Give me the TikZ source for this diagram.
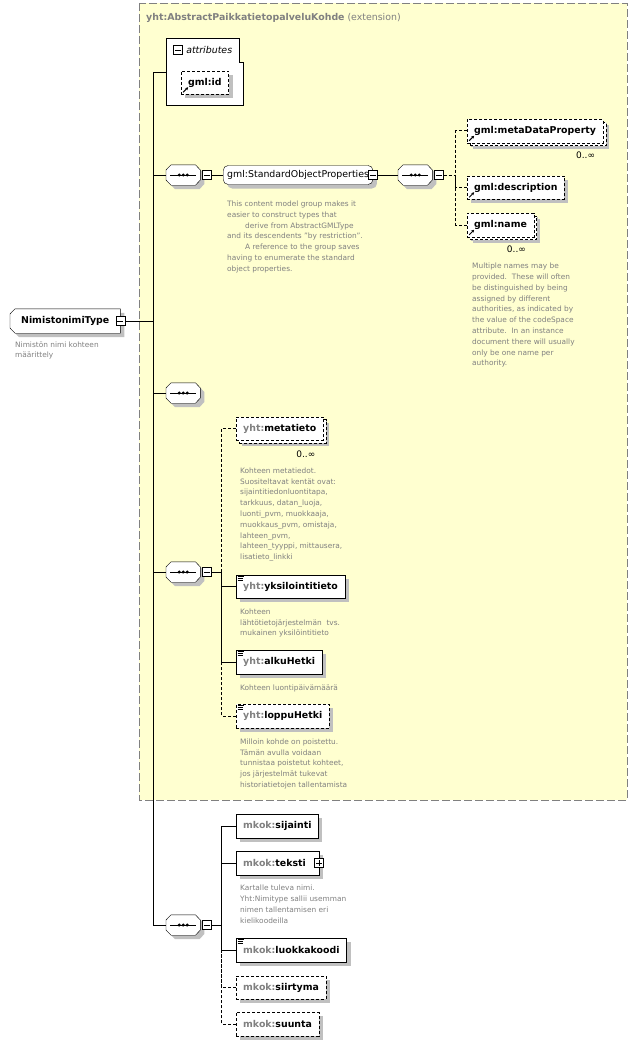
\documentclass[tikz,border=0pt]{standalone}
\usepackage{fontspec}
\setmainfont{DejaVu Sans}
\usetikzlibrary{shadows}
\usetikzlibrary{arrows.meta}
\usetikzlibrary{positioning}

\definecolor{bgyellow}{RGB}{255,255,208}
\definecolor{framegray}{RGB}{128,128,128}
\definecolor{shadowgray}{RGB}{192,192,192}
\definecolor{notegray}{RGB}{128,128,128}
\definecolor{pfxgray}{RGB}{128,128,128}

\newcommand{\qn}[2]{\textcolor{pfxgray}{#1:}#2}

\pgfdeclarelayer{bg}
\pgfdeclarelayer{mid}
\pgfsetlayers{bg,mid,main}

\begin{document}
\begin{tikzpicture} [
  x=1pt, y=-1pt,
  line width=1pt,
  link/.style={draw, line width=1pt},
  optlink/.style={link, dash pattern=on 3pt off 2pt},
  shadowed/.style={drop shadow={shadow xshift=4pt, shadow yshift=-4pt, fill=shadowgray, opacity=1}},
  elem/.style={draw, fill=white, anchor=west, minimum height=23.5pt, inner xsep=7pt, inner ysep=0pt,
    font=\fontsize{9.4}{11}\selectfont\bfseries, shadowed},
  opt/.style={dash pattern=on 3pt off 2pt},
  multi/.style={drop shadow={shadow xshift=6pt, shadow yshift=-6pt, fill=shadowgray, opacity=1},
    general shadow={shadow xshift=3pt, shadow yshift=-3pt, draw, fill=white, line width=1pt, dash pattern=on 3pt off 2pt}},
  refmark/.style={path picture={
    \draw[line width=1pt, solid, -{Stealth[length=3pt,width=3pt]}]
      ([shift={(2pt,2pt)}]path picture bounding box.south west) -- ++(5pt,5pt);}},
  simplemark/.style={path picture={
    \foreach \dy/\len in {-1.5pt/6pt,-3.5pt/5pt,-5.5pt/5pt}
      \draw[line width=1pt, solid] ([shift={(1.5pt,\dy)}]path picture bounding box.north west) -- ++(\len,0pt);}},
  grp/.style={draw, fill=white, anchor=west, rounded corners=5pt, minimum height=19pt, inner xsep=4pt, inner ysep=0pt,
    font=\fontsize{9.4}{11}\selectfont, shadowed},
  rootbox/.style={rectangle, anchor=west, minimum width=110pt, minimum height=24pt, inner sep=0pt,
    font=\fontsize{9.4}{11}\selectfont\bfseries},
  rootpath/.style={insert path={([yshift=7pt]#1.west) -- ([xshift=5pt]#1.north west) -- (#1.north east)
    -- (#1.south east) -- ([xshift=5pt]#1.south west) -- ([yshift=-7pt]#1.west) -- cycle}},
  seq/.style={rectangle, anchor=west, minimum width=34pt, minimum height=20pt, inner sep=0pt},
  octpath/.style={insert path={([yshift=5pt]#1.west) -- ([xshift=5pt]#1.north west) -- ([xshift=-5pt]#1.north east)
    -- ([yshift=5pt]#1.east) -- ([yshift=-5pt]#1.east) -- ([xshift=-5pt]#1.south east)
    -- ([xshift=5pt]#1.south west) -- ([yshift=-5pt]#1.west) -- cycle}},
  minusbox/.style={draw, fill=white, line width=0.8pt, minimum size=9pt, inner sep=0pt,
    path picture={\draw[line width=0.8pt] ([xshift=-3pt]path picture bounding box.center) -- ([xshift=3pt]path picture bounding box.center);}},
  plusbox/.style={draw, fill=white, line width=0.8pt, minimum size=9pt, inner sep=0pt,
    path picture={
      \draw[line width=0.8pt] ([xshift=-3pt]path picture bounding box.center) -- ([xshift=3pt]path picture bounding box.center);
      \draw[line width=0.8pt] ([yshift=-3pt]path picture bounding box.center) -- ([yshift=3pt]path picture bounding box.center);}},
  note/.style={font=\fontsize{7.4}{10.8}\selectfont, text=notegray, align=left, inner sep=0pt},
  card/.style={font=\fontsize{9}{10}\selectfont, inner sep=0pt},
  attrhead/.style={anchor=west, minimum width=73pt, minimum height=24pt, inner sep=0pt, font=\fontsize{9.4}{11}\selectfont}
  ]
  \useasboundingbox (0,0) rectangle (637,1046);

  % extension frame
  \begin{pgfonlayer}{bg}
    \draw[fill=bgyellow, draw=framegray, dash pattern=on 8pt off 3pt] (139,3) rectangle (627,800);
  \end{pgfonlayer}
  \node[anchor=west, inner sep=0pt, text=framegray, font=\fontsize{9.4}{11}\selectfont] (frametitle) at (146,18)
    {\textbf{yht:AbstractPaikkatietopalveluKohde} (extension)};

  % root
  \node[rootbox] (root) at (10,321) {NimistonimiType};
  \node[minusbox] (rootmin) at (root.east) {};
  \node[note, below right=8pt and 5pt of root.south west] (rootnote) {Nimistön nimi kohteen\\määrittely};
  \coordinate (spine) at ([xshift=28pt]rootmin.east);

  % attributes
  \node[attrhead] (attr) at (166,50) {\hspace*{13pt}\textit{attributes}};
  \node[minusbox] (attrmin) at ([xshift=12pt]attr.west) {};
  \node[elem, opt, refmark] (gid) at (181,82.5) {gml:id};
  \coordinate (attrin) at ([yshift=-10pt]attr.south west);

  % gml:StandardObjectProperties
  \node[seq] (seqA) at (166,175) {};
  \node[minusbox, right=1.5pt of seqA] (seqAmin) {};
  \node[grp] (sop) at (223,175) {gml:StandardObjectProperties};
  \node[minusbox] (sopmin) at (sop.east) {};
  \node[note, below right=16pt and 4pt of sop.south west] (sopnote) {This content model group makes it\\
    easier to construct types that\\
    \hspace*{18pt}derive from AbstractGMLType\\
    and its descendents "by restriction".\\
    \hspace*{18pt}A reference to the group saves\\
    having to enumerate the standard\\
    object properties.};
  \node[seq] (seqB) at (398,175) {};
  \node[minusbox, right=1.5pt of seqB] (seqBmin) {};
  \coordinate (bspine) at ([xshift=12pt]seqBmin.east);
  \node[elem, opt, refmark, multi] (mdp) at (467,131) {gml:metaDataProperty};
  \node[card, below left=9pt and 8pt of mdp.south east] (mdpcard) {0..∞};
  \node[elem, opt, refmark] (desc) at (467,187.5) {gml:description};
  \node[elem, opt, refmark, multi] (gname) at (467,225) {gml:name};
  \node[card, below left=9pt and 8pt of gname.south east] (gnamecard) {0..∞};
  \node[note, below right=26pt and 5pt of gname.south west] (gnamenote) {Multiple names may be\\
    provided.\ \ These will often\\
    be distinguished by being\\
    assigned by different\\
    authorities, as indicated by\\
    the value of the codeSpace\\
    attribute.\ \ In an instance\\
    document there will usually\\
    only be one name per\\
    authority.};

  % empty sequence
  \node[seq] (seqC) at (166,393) {};

  % yht elements
  \node[seq] (seqD) at (166,572) {};
  \node[minusbox, right=1.5pt of seqD] (seqDmin) {};
  \coordinate (dspine) at ([xshift=10pt]seqDmin.east);
  \node[elem, opt, multi] (meta) at (236,428.5) {\qn{yht}{metatieto}};
  \node[card, below left=10pt and 8pt of meta.south east] (metacard) {0..∞};
  \node[note, below right=27pt and 4pt of meta.south west] (metanote) {Kohteen metatiedot.\\
    Suositeltavat kentät ovat:\\
    sijaintitiedonluontitapa,\\
    tarkkuus, datan\_luoja,\\
    luonti\_pvm, muokkaaja,\\
    muokkaus\_pvm, omistaja,\\
    lahteen\_pvm,\\
    lahteen\_tyyppi, mittausera,\\
    lisatieto\_linkki};
  \node[elem, simplemark] (yks) at (236,586.5) {\qn{yht}{yksilointitieto}};
  \node[note, below right=10pt and 4pt of yks.south west] (yksnote) {Kohteen\\
    lähtötietojärjestelmän\ \ tvs.\\
    mukainen yksilöintitieto};
  \node[elem, simplemark] (alku) at (236,662) {\qn{yht}{alkuHetki}};
  \node[note, below right=10.5pt and 4pt of alku.south west] (alkunote) {Kohteen luontipäivämäärä};
  \node[elem, opt, simplemark] (loppu) at (236,716) {\qn{yht}{loppuHetki}};
  \node[note, below right=10.5pt and 4pt of loppu.south west] (loppunote) {Milloin kohde on poistettu.\\
    Tämän avulla voidaan\\
    tunnistaa poistetut kohteet,\\
    jos järjestelmät tukevat\\
    historiatietojen tallentamista};

  % mkok elements
  \node[seq] (seqE) at (166,925) {};
  \node[minusbox, right=1.5pt of seqE] (seqEmin) {};
  \coordinate (espine) at ([xshift=10pt]seqEmin.east);
  \node[elem] (sij) at (236,826) {\qn{mkok}{sijainti}};
  \node[elem] (teks) at (236,863) {\qn{mkok}{teksti}\hspace*{6pt}};
  \node[plusbox] (teksplus) at (teks.east) {};
  \node[note, below right=10pt and 4pt of teks.south west] (teksnote) {Kartalle tuleva nimi.\\
    Yht:Nimitype sallii usemman\\
    nimen tallentamisen eri\\
    kielikoodeilla};
  \node[elem, simplemark] (luok) at (236,950) {\qn{mkok}{luokkakoodi}};
  \node[elem, opt] (siir) at (236,987.5) {\qn{mkok}{siirtyma}};
  \node[elem, opt] (suun) at (236,1024) {\qn{mkok}{suunta}};

  % outlines under the text
  \begin{pgfonlayer}{mid}
    \draw[fill=white] (attr.north west) -- (attr.north east) -- (attr.south east) -- ++(4,0) -- ++(0,43) -| (attr.north west) -- cycle;
    \fill[shadowgray, transform canvas={shift={(4pt,-4pt)}}, rootpath=root];
    \draw[fill=white, rootpath=root];
    \foreach \n in {seqA,seqB,seqC,seqD,seqE} {
      \fill[shadowgray, transform canvas={shift={(4pt,-4pt)}}, octpath=\n];
      \draw[fill=white, octpath=\n];
      \draw ([xshift=-13pt]\n.center) -- ([xshift=13pt]\n.center);
      \foreach \dx in {-4pt,0pt,4pt}
        \fill ([xshift=\dx]\n.center) circle (1.7pt);
    }
  \end{pgfonlayer}

  % connectors
  \draw[link] (rootmin.east) -- (spine);
  \draw[link] (attrin) -| (spine);
  \draw[link] (seqA.west) -- (seqA.west -| spine);
  \draw[link] (seqC.west) -- (seqC.west -| spine);
  \draw[link] (seqD.west) -- (seqD.west -| spine);
  \draw[link] (seqE.west) -| (spine);

  \draw[link] (seqAmin.east) -- (sop.west);
  \draw[link] (sopmin.east) -- (seqB.west);
  \draw[optlink] (seqBmin.east) -- (bspine);
  \draw[optlink] (mdp.west) -| (bspine);
  \draw[optlink] (desc.west) -| (bspine);
  \draw[optlink] (gname.west) -| (bspine);

  \draw[link] (seqDmin.east) -- (dspine);
  \draw[optlink] (meta.west) -| (dspine);
  \draw[link] (yks.west) -| (dspine);
  \draw[link] (alku.west) -| (dspine);
  \draw[optlink] (loppu.west) -| (dspine);

  \draw[link] (seqEmin.east) -- (espine);
  \draw[link] (sij.west) -| (espine);
  \draw[link] (teks.west) -| (espine);
  \draw[link] (luok.west) -| (espine);
  \draw[optlink] (siir.west) -| (espine);
  \draw[optlink] (suun.west) -| (espine);
\end{tikzpicture}
\end{document}
